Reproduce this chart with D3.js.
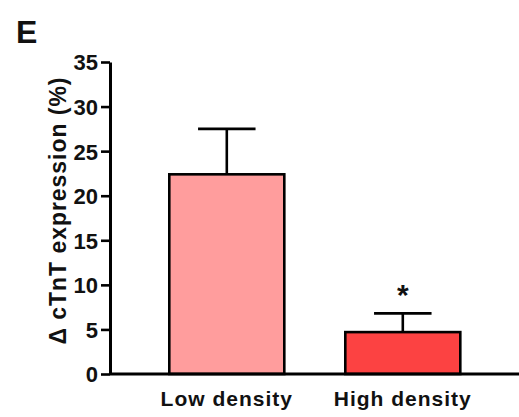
<!DOCTYPE html>
<html>
<head>
<meta charset="utf-8">
<script src="https://cdn.jsdelivr.net/npm/d3@7"></script>
<style>
  html, body { margin: 0; padding: 0; background: #fff; }
  svg { display: block; }
  text { font-family: "Liberation Sans", Arial, sans-serif; fill: #111; }
</style>
</head>
<body>
<svg id="chart" width="519" height="417"></svg>
<script>
// Groups, means and upper error (mean + SEM) in percent
const categories = ["Low density", "High density"];
const means = [22.4, 4.7];
const upperErrors = [27.5, 6.8];
const significance = ["", "*"];
const barColors = ["#FF9D9D", "#FC4242"];
const yTicks = [0, 5, 10, 15, 20, 25, 30, 35];

const svg = d3.select("#chart");

const y = d3.scaleLinear().domain([0, 35]).range([374, 62]);
const x = d3.scaleBand()
  .domain(categories)
  .range([138.8, 490.8])
  .paddingInner(0.3466)
  .paddingOuter(0.1733);

// Bars
svg.selectAll("rect.bar")
  .data(categories)
  .join("rect")
  .attr("class", "bar")
  .attr("x", d => x(d))
  .attr("y", (d, i) => y(means[i]))
  .attr("width", x.bandwidth())
  .attr("height", (d, i) => y(0) - y(means[i]))
  .attr("fill", (d, i) => barColors[i])
  .attr("stroke", "#000")
  .attr("stroke-width", 2.6);

// Error bars (upper only)
const capHalf = x.bandwidth() * 0.25;
const err = svg.selectAll("g.err")
  .data(categories)
  .join("g")
  .attr("class", "err")
  .attr("stroke", "#000")
  .attr("stroke-width", 2.6);
err.append("line")
  .attr("x1", d => x(d) + x.bandwidth() / 2)
  .attr("x2", d => x(d) + x.bandwidth() / 2)
  .attr("y1", (d, i) => y(means[i]))
  .attr("y2", (d, i) => y(upperErrors[i]));
err.append("line")
  .attr("x1", d => x(d) + x.bandwidth() / 2 - capHalf)
  .attr("x2", d => x(d) + x.bandwidth() / 2 + capHalf)
  .attr("y1", (d, i) => y(upperErrors[i]))
  .attr("y2", (d, i) => y(upperErrors[i]));

// Significance marks
svg.selectAll("text.sig")
  .data(categories)
  .join("text")
  .attr("class", "sig")
  .attr("x", d => x(d) + x.bandwidth() / 2)
  .attr("y", (d, i) => y(upperErrors[i]) - 8)
  .attr("text-anchor", "middle")
  .attr("font-size", 30)
  .attr("font-weight", "bold")
  .text((d, i) => significance[i]);

// Y axis
const yAxis = svg.append("g")
  .attr("transform", "translate(110,0)")
  .call(d3.axisLeft(y).tickValues(yTicks).tickSize(9).tickPadding(3).tickSizeOuter(0));
yAxis.select(".domain").attr("stroke-width", 3).attr("stroke", "#000");
yAxis.selectAll(".tick line").attr("stroke-width", 2.6).attr("stroke", "#000");
yAxis.selectAll(".tick text")
  .attr("font-size", 22)
  .attr("font-weight", "bold")
  .attr("font-family", "Liberation Sans, Arial, sans-serif")
  .attr("fill", "#111")
  .attr("dy", "0.36em");

// X axis baseline
svg.append("line")
  .attr("x1", 110).attr("x2", 519)
  .attr("y1", y(0)).attr("y2", y(0))
  .attr("stroke", "#000")
  .attr("stroke-width", 3);

// Category labels
svg.selectAll("text.cat")
  .data(categories)
  .join("text")
  .attr("class", "cat")
  .attr("x", d => x(d) + x.bandwidth() / 2)
  .attr("y", 406)
  .attr("text-anchor", "middle")
  .attr("font-size", 21)
  .attr("font-weight", "bold")
  .attr("letter-spacing", 1)
  .text(d => d);

// Y axis title
svg.append("text")
  .attr("transform", "translate(66,211) rotate(-90)")
  .attr("text-anchor", "middle")
  .attr("font-size", 23)
  .attr("font-weight", "bold")
  .attr("textLength", 267)
  .attr("lengthAdjust", "spacing")
  .text("\u0394 cTnT expression (%)");

// Panel letter
svg.append("text")
  .attr("x", 16)
  .attr("y", 43)
  .attr("font-size", 32)
  .attr("font-weight", "bold")
  .attr("fill", "#000")
  .text("E");
</script>
</body>
</html>
